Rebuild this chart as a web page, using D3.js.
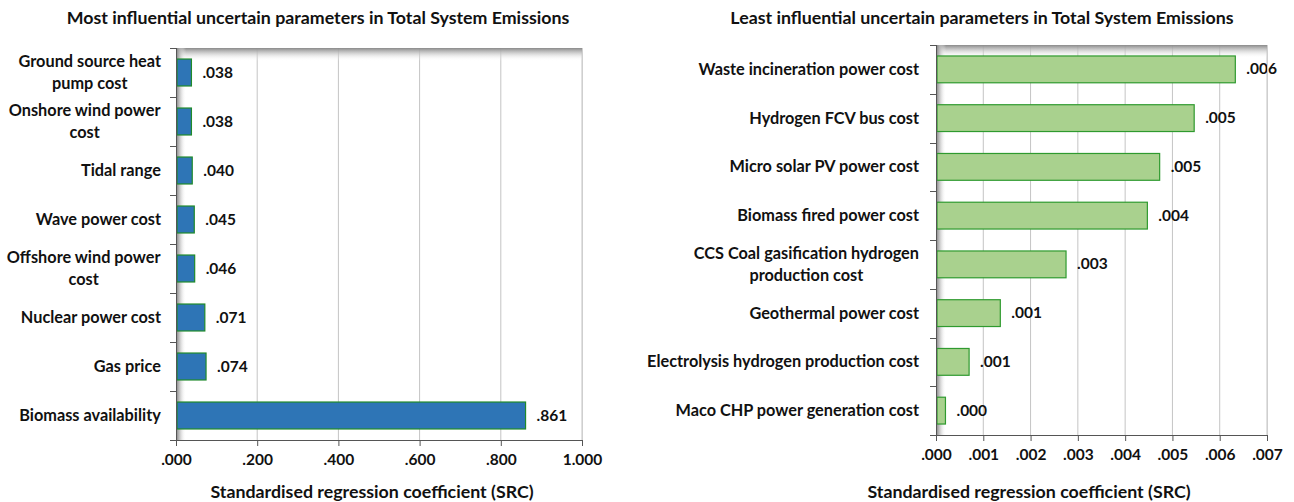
<!DOCTYPE html>
<html><head><meta charset="utf-8">
<script src="https://cdn.jsdelivr.net/npm/d3@7"></script>
<style>
html,body{margin:0;padding:0;background:#fff;}
svg text{font-family:Lato,"Open Sans",sans-serif;font-weight:bold;fill:#111;}
</style></head>
<body>
<svg id="chart" width="1294" height="502"></svg>
<script>
// ---- data ----
const leftTitle = "Most influential uncertain parameters in Total System Emissions";
const leftCategories = [
  ["Ground source heat","pump cost"],
  ["Onshore wind power","cost"],
  ["Tidal range"],
  ["Wave power cost"],
  ["Offshore wind power","cost"],
  ["Nuclear power cost"],
  ["Gas price"],
  ["Biomass availability"]
];
const leftValues = [0.038, 0.038, 0.040, 0.045, 0.046, 0.071, 0.074, 0.861];
const leftTicks = [0, 0.2, 0.4, 0.6, 0.8, 1.0];
const leftTickLabels = [".000", ".200", ".400", ".600", ".800", "1.000"];

const rightTitle = "Least influential uncertain parameters in Total System Emissions";
const rightCategories = [
  ["Waste incineration power cost"],
  ["Hydrogen FCV bus cost"],
  ["Micro solar PV power cost"],
  ["Biomass fired power cost"],
  ["CCS Coal gasification hydrogen","production cost"],
  ["Geothermal power cost"],
  ["Electrolysis hydrogen production cost"],
  ["Maco CHP power generation cost"]
];
const rightValues = [0.00633, 0.00546, 0.00473, 0.00447, 0.00275, 0.00136, 0.00070, 0.00020];
const rightTicks = [0, 0.001, 0.002, 0.003, 0.004, 0.005, 0.006, 0.007];
const rightTickLabels = [".000", ".001", ".002", ".003", ".004", ".005", ".006", ".007"];

const xTitle = "Standardised regression coefficient (SRC)";

// ---- drawing ----
const svg = d3.select("#chart");
const defs = svg.append("defs");
const gTop = defs.append("linearGradient").attr("id","shadeTop").attr("x1",0).attr("y1",0).attr("x2",0).attr("y2",1);
gTop.append("stop").attr("offset","0%").attr("stop-color","#8a8a8a").attr("stop-opacity",1);
gTop.append("stop").attr("offset","35%").attr("stop-color","#bdbdbd").attr("stop-opacity",0.8);
gTop.append("stop").attr("offset","100%").attr("stop-color","#ffffff").attr("stop-opacity",0);
const gLeft = defs.append("linearGradient").attr("id","shadeLeft").attr("x1",0).attr("y1",0).attr("x2",1).attr("y2",0);
gLeft.append("stop").attr("offset","0%").attr("stop-color","#7a7a7a").attr("stop-opacity",1);
gLeft.append("stop").attr("offset","35%").attr("stop-color","#b5b5b5").attr("stop-opacity",0.8);
gLeft.append("stop").attr("offset","100%").attr("stop-color","#ffffff").attr("stop-opacity",0);

function panel(o){
  const g = svg.append("g");
  const x = d3.scaleLinear().domain(o.domain).range([o.x0, o.x1]);
  const y = d3.scaleBand().domain(d3.range(o.values.length)).range([o.y0, o.y1]).paddingInner(0.45).paddingOuter(0.225);
  const step = y.step();

  // title
  g.append("text").attr("x", o.titleX).attr("y", 24).attr("text-anchor","middle")
    .style("font-size","17.8px").text(o.title);

  // gridlines
  g.selectAll(".grid").data(o.ticks.slice(1)).enter().append("line")
    .attr("x1", d=>x(d)).attr("x2", d=>x(d)).attr("y1", o.y0).attr("y2", o.y1)
    .attr("stroke","#c4c4c4").attr("stroke-width",1);

  // shading
  g.append("rect").attr("x", o.x0).attr("y", o.y0).attr("width", o.x1-o.x0).attr("height", 13)
    .attr("fill","url(#shadeTop)");
  g.append("rect").attr("x", o.x0).attr("y", o.y0).attr("width", 10).attr("height", o.y1-o.y0)
    .attr("fill","url(#shadeLeft)");

  // bars
  g.selectAll(".bar").data(o.values).enter().append("rect")
    .attr("x", x(0)+1).attr("y", (d,i)=>y(i))
    .attr("width", d=>x(d)-x(0)-1).attr("height", y.bandwidth())
    .attr("fill", o.fill).attr("stroke", o.stroke).attr("stroke-width",1.2);

  // value labels
  g.selectAll(".val").data(o.values).enter().append("text")
    .attr("x", d=>x(d)+11).attr("y", (d,i)=>y(i)+y.bandwidth()/2+5)
    .style("font-size","15.5px").text((d,i)=>o.valueLabels[i]);

  // x axis
  const xa = g.append("g").attr("transform",`translate(0,${o.y1})`)
    .call(d3.axisBottom(x).tickValues(o.ticks).tickSize(6).tickFormat((d,i)=>o.tickLabels[i]));
  xa.select(".domain").attr("stroke","#555").attr("d", `M${o.x0},0.5H${o.x1}`);
  xa.selectAll(".tick line").attr("stroke","#555");
  xa.selectAll(".tick text").attr("dy","0").attr("y", 25).style("font-size","15.5px")
    .style("font-family","Lato, 'Open Sans', sans-serif").style("font-weight","bold").attr("fill","#111");

  // y axis line and ticks at category boundaries
  g.append("line").attr("x1",o.x0+0.5).attr("x2",o.x0+0.5).attr("y1",o.y0).attr("y2",o.y1).attr("stroke","#555");
  g.append("line").attr("x1",o.x1+0.5).attr("x2",o.x1+0.5).attr("y1",o.y0).attr("y2",o.y1).attr("stroke","#cfcfcf");
  g.selectAll(".ytick").data(d3.range(o.values.length+1)).enter().append("line")
    .attr("x1", o.x0-6).attr("x2", o.x0).attr("y1", i=>Math.round(o.y0+i*step)+0.5).attr("y2", i=>Math.round(o.y0+i*step)+0.5)
    .attr("stroke","#555");

  // category labels
  o.categories.forEach((lines,i)=>{
    const cy = y(i)+y.bandwidth()/2;
    const t = g.append("text").attr("text-anchor","middle").style("font-size","16.3px");
    const lh = 22;
    lines.forEach((ln,j)=>{
      t.append("tspan").attr("x",0).attr("y", cy + 5.5 + (j-(lines.length-1)/2)*lh).text(ln);
    });
    const w = t.node().getBBox().width;
    t.selectAll("tspan").attr("x", o.labelRight - w/2);
  });

  // x title
  g.append("text").attr("x", o.xTitleX).attr("y", 498).attr("text-anchor","middle")
    .style("font-size","17.8px").text(xTitle);
}

panel({
  title: leftTitle, titleX: 318, domain:[0,1], x0:176, x1:582, y0:48, y1:440,
  values:leftValues, valueLabels: leftValues.map(v=>d3.format(".3f")(v).replace(/^0/,"")),
  categories:leftCategories, ticks:leftTicks, tickLabels:leftTickLabels,
  fill:"#2E75B6", stroke:"#1f8a2a", labelRight:161, xTitleX:372
});
panel({
  title: rightTitle, titleX: 982, domain:[0,0.007], x0:936, x1:1267, y0:45, y1:435,
  values:rightValues, valueLabels: rightValues.map(v=>d3.format(".3f")(v).replace(/^0/,"")),
  categories:rightCategories, ticks:rightTicks, tickLabels:rightTickLabels,
  fill:"#A9D18E", stroke:"#2f9a2f", labelRight:919, xTitleX:1029
});
</script>
</body></html>
